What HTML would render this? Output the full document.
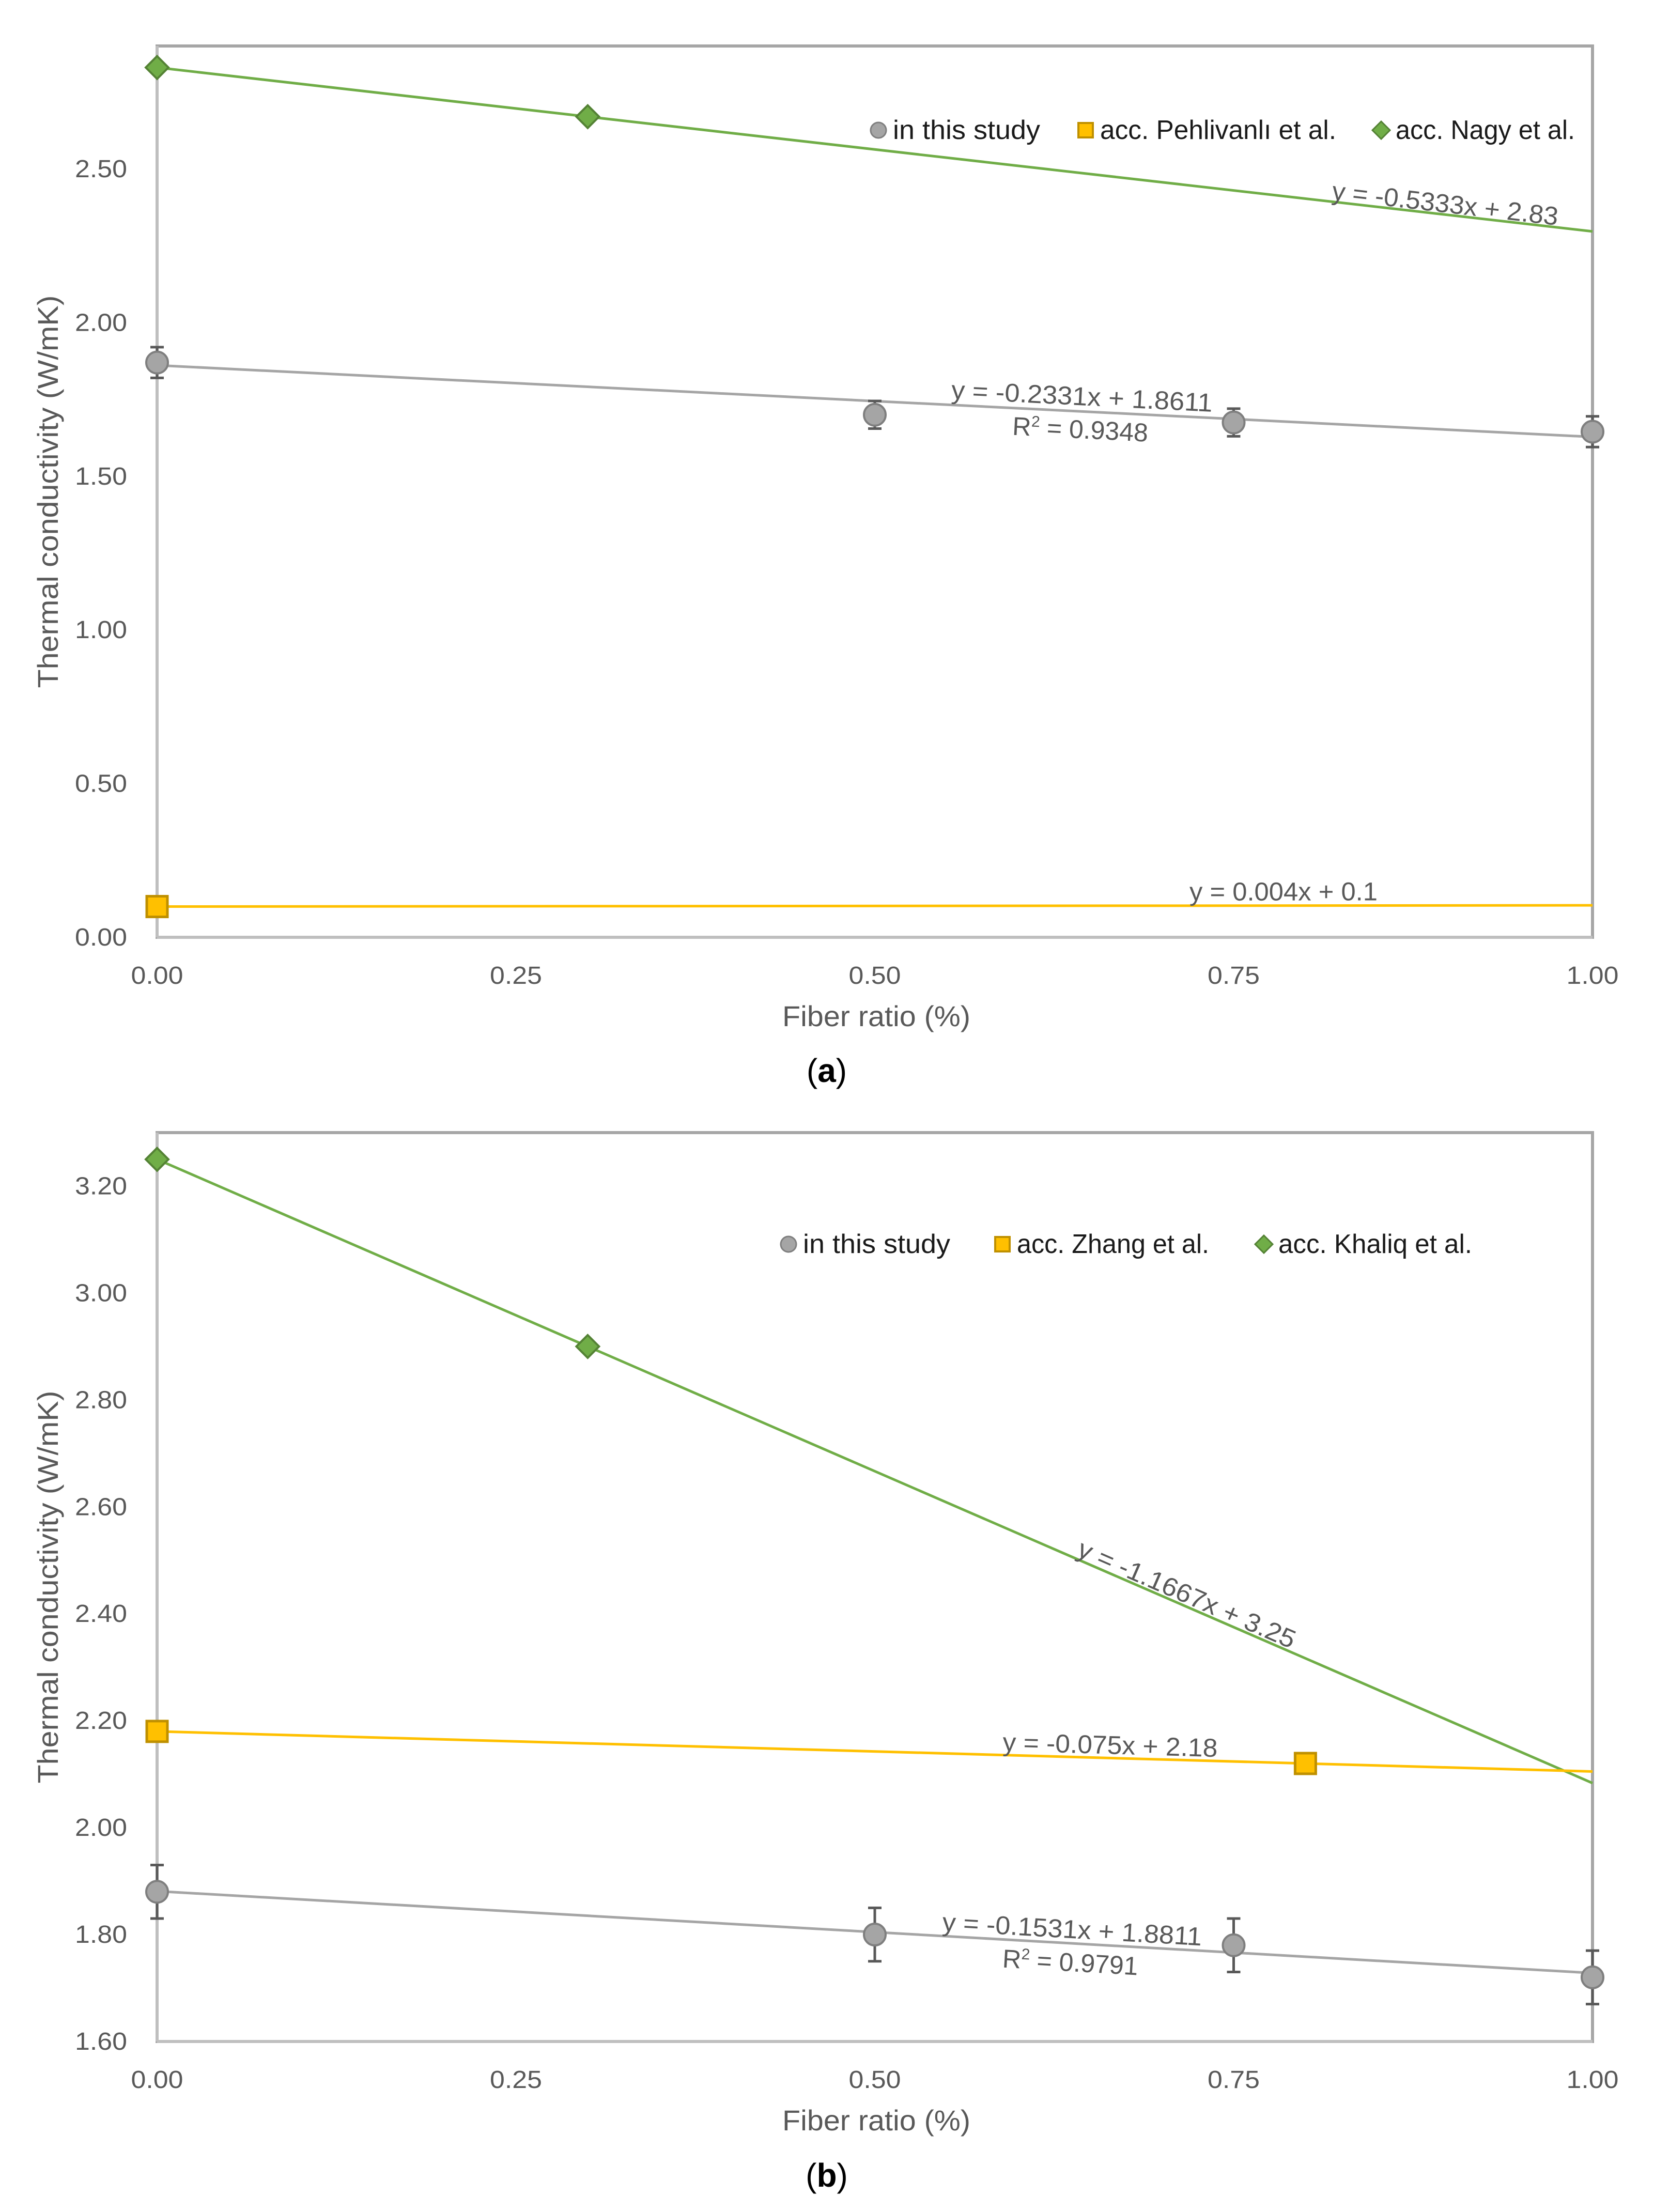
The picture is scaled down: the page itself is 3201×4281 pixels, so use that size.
<!DOCTYPE html>
<html><head><meta charset="utf-8"><style>
html,body{margin:0;padding:0;background:#fff}
svg{display:block}
text{font-family:"Liberation Sans",sans-serif}
</style></head><body>
<svg id="fig" width="3201" height="4281" viewBox="0 0 3201 4281" xmlns="http://www.w3.org/2000/svg"></svg>
<script>
// ---- chart (a) data ----
const aStudyX = [0, 0.5, 0.75, 1.0];
const aStudyY = [1.87, 1.70, 1.675, 1.645];
const aStudyErr = [0.05, 0.045, 0.045, 0.05];
const aPehX = [0];
const aPehY = [0.1];
const aNagyX = [0, 0.3];
const aNagyY = [2.83, 2.67];
const aTrendStudy = [-0.2331, 1.8611];
const aTrendPeh = [0.004, 0.1];
const aTrendNagy = [-0.5333, 2.83];
const aYTicks = [0, 0.5, 1.0, 1.5, 2.0, 2.5];
const aYTickLabels = ["0.00","0.50","1.00","1.50","2.00","2.50"];
const aLegend = ["in this study","acc. Pehlivanlı et al.","acc. Nagy et al."];
// ---- chart (b) data ----
const bStudyX = [0, 0.5, 0.75, 1.0];
const bStudyY = [1.88, 1.80, 1.78, 1.72];
const bStudyErr = [0.05, 0.05, 0.05, 0.05];
const bZhangX = [0, 0.8];
const bZhangY = [2.18, 2.12];
const bKhaliqX = [0, 0.3];
const bKhaliqY = [3.25, 2.90];
const bTrendStudy = [-0.1531, 1.8811];
const bTrendZhang = [-0.075, 2.18];
const bTrendKhaliq = [-1.1667, 3.25];
const bYTicks = [1.6, 1.8, 2.0, 2.2, 2.4, 2.6, 2.8, 3.0, 3.2];
const bYTickLabels = ["1.60","1.80","2.00","2.20","2.40","2.60","2.80","3.00","3.20"];
const bLegend = ["in this study","acc. Zhang et al.","acc. Khaliq et al."];
const xTicks = [0, 0.25, 0.5, 0.75, 1.0];
const xTickLabels = ["0.00","0.25","0.50","0.75","1.00"];

const NS = "http://www.w3.org/2000/svg";
const svg = document.getElementById('fig');
function mk(tag, attrs, parent, txt){
  const e = document.createElementNS(NS, tag);
  for (const k in attrs) e.setAttribute(k, attrs[k]);
  if (txt !== undefined) e.textContent = txt;
  (parent||svg).appendChild(e);
  return e;
}
const COL = {gray:'#a5a5a5', grayS:'#7f7f7f', yel:'#ffc000', yelS:'#bf9000', grn:'#70ad47', grnS:'#548235'};

function marker(g, kind, cx, cy, name){
  let e;
  if (kind==='circle') e = mk('circle',{cx:cx,cy:cy,r:21,fill:COL.gray,stroke:COL.grayS,'stroke-width':4},g);
  else if (kind==='square') e = mk('rect',{x:cx-20,y:cy-20,width:40,height:40,fill:COL.yel,stroke:COL.yelS,'stroke-width':5},g);
  else e = mk('polygon',{points:`${cx},${cy-22} ${cx+22},${cy} ${cx},${cy+22} ${cx-22},${cy}`,fill:COL.grn,stroke:COL.grnS,'stroke-width':4},g);
  
  
  return e;
}

function chart(cfg){
  const g = mk('g',{});
  
  
  const L=304, R=3082, T=cfg.top, B=cfg.bottom;
  const xs = v => L + v*(R-L);
  const ys = v => B - (v-cfg.ymin)/(cfg.ymax-cfg.ymin)*(B-T);
  const fr = mk('rect',{x:L,y:T,width:R-L,height:B-T,fill:'none',stroke:'#a6a6a6','stroke-width':6},g);
  
  
  mk('line',{x1:L,y1:T,x2:L,y2:B,stroke:'#bfbfbf','stroke-width':6},g);
  mk('line',{x1:L,y1:B,x2:R,y2:B,stroke:'#bfbfbf','stroke-width':6},g);
  cfg.yt.forEach((v,i)=>{
    const t = mk('text',{x:L-58,y:ys(v)+16,'text-anchor':'end','font-size':48,fill:'#595959',textLength:101,lengthAdjust:'spacingAndGlyphs'},g,cfg.ytl[i]);
    
    
  });
  xTicks.forEach((v,i)=>{
    const t = mk('text',{x:xs(v),y:B+90,'text-anchor':'middle','font-size':48,fill:'#595959',textLength:101,lengthAdjust:'spacingAndGlyphs'},g,xTickLabels[i]);
    
    
  });
  const xt = mk('text',{x:1696,y:B+172,'text-anchor':'middle','font-size':56,fill:'#595959',textLength:364,lengthAdjust:'spacingAndGlyphs'},g,'Fiber ratio (%)');
  
  
  const yc=(T+B)/2;
  const yt = mk('text',{x:112,y:yc,'text-anchor':'middle','font-size':56,fill:'#595959',transform:`rotate(-90 112 ${yc})`,textLength:760,lengthAdjust:'spacingAndGlyphs'},g,'Thermal conductivity (W/mK)');
  
  
  cfg.trends.forEach(tr=>{
    const [m,b]=tr.coef;
    const l = mk('line',{x1:xs(0),y1:ys(b),x2:xs(1),y2:ys(m+b),stroke:tr.color,'stroke-width':5},g);
    
    
    const ang = Math.atan2(ys(m+b)-ys(b), xs(1)-xs(0))*180/Math.PI;
    const px=tr.lx, py=ys(b+m*((px-L)/(R-L)))-tr.off;
    const lab = mk('text',{x:px,y:py,'text-anchor':'middle','font-size':50,fill:'#595959',transform:`rotate(${ang} ${px} ${py})`,textLength:tr.tl,lengthAdjust:'spacingAndGlyphs'},g,tr.label);
    
    
    if (tr.r2){
      const r = mk('text',{x:px,y:py+64,'text-anchor':'middle','font-size':50,fill:'#595959',transform:`rotate(${ang} ${px} ${py})`},g);
      
      
      r.innerHTML = 'R<tspan font-size="30" dy="-18">2</tspan><tspan dy="18"> = '+tr.r2+'</tspan>';
    }
  });
  cfg.study.x.forEach((x,i)=>{
    const cx=xs(x), y=cfg.study.y[i], e=cfg.study.e[i];
    const eb = mk('path',{d:`M${cx},${ys(y+e)}V${ys(y-e)}M${cx-13},${ys(y+e)}H${cx+13}M${cx-13},${ys(y-e)}H${cx+13}`,stroke:'#595959','stroke-width':5,fill:'none'},g);
    
    
    marker(g,'circle',cx,ys(y),'study-point');
  });
  cfg.sq.x.forEach((x,i)=>marker(g,'square',xs(x),ys(cfg.sq.y[i]),'square-point'));
  cfg.dm.x.forEach((x,i)=>marker(g,'diamond',xs(x),ys(cfg.dm.y[i]),'diamond-point'));
  const lg = mk('g',{},g);
  
  
  const kinds=['circle','square','diamond'];
  cfg.legend.forEach((s,i)=>{
    const lx=cfg.legX[i], ly=cfg.legY;
    const k=kinds[i];
    let m;
    if(k==='circle') m=mk('circle',{cx:lx,cy:ly,r:15,fill:COL.gray,stroke:COL.grayS,'stroke-width':3},lg);
    else if(k==='square') m=mk('rect',{x:lx-14,y:ly-14,width:28,height:28,fill:COL.yel,stroke:COL.yelS,'stroke-width':4},lg);
    else m=mk('polygon',{points:`${lx},${ly-17} ${lx+17},${ly} ${lx},${ly+17} ${lx-17},${ly}`,fill:COL.grn,stroke:COL.grnS,'stroke-width':3},lg);
    
    
    const t=mk('text',{x:lx+28,y:ly+17,'font-size':52,fill:'#1a1a1a',textLength:cfg.legW[i],lengthAdjust:'spacingAndGlyphs'},lg,s);
    
    
  });
  const cap = mk('text',{x:1600,y:cfg.capY,'text-anchor':'middle','font-size':64,fill:'#000','font-family':'Liberation Serif, serif'},g);
  cap.innerHTML='(<tspan font-weight="bold">'+cfg.cap+'</tspan>)';
  
  
}

chart({name:'chart-a', top:89, bottom:1814, ymin:0, ymax:2.9, yt:aYTicks, ytl:aYTickLabels,
  study:{x:aStudyX,y:aStudyY,e:aStudyErr}, sq:{x:aPehX,y:aPehY}, dm:{x:aNagyX,y:aNagyY},
  trends:[
    {name:'nagy',coef:aTrendNagy,color:COL.grn,label:'y = -0.5333x + 2.83',lx:2795,off:4,tl:440},
    {name:'study',coef:aTrendStudy,color:COL.gray,label:'y = -0.2331x + 1.8611',lx:2093,off:12,r2:'0.9348',tl:506},
    {name:'pehlivanli',coef:aTrendPeh,color:COL.yel,label:'y = 0.004x + 0.1',lx:2484,off:10,tl:364}
  ],
  legend:aLegend, legX:[1700,2101,2673], legW:[285,457,347], legY:252, cap:'a', capY:2094});

chart({name:'chart-b', top:2192, bottom:3951, ymin:1.6, ymax:3.3, yt:bYTicks, ytl:bYTickLabels,
  study:{x:bStudyX,y:bStudyY,e:bStudyErr}, sq:{x:bZhangX,y:bZhangY}, dm:{x:bKhaliqX,y:bKhaliqY},
  trends:[
    {name:'khaliq',coef:bTrendKhaliq,color:COL.grn,label:'y = -1.1667x + 3.25',lx:2290,off:6,tl:454},
    {name:'zhang',coef:bTrendZhang,color:COL.yel,label:'y = -0.075x + 2.18',lx:2148,off:8,tl:416},
    {name:'study',coef:bTrendStudy,color:COL.gray,label:'y = -0.1531x + 1.8811',lx:2074,off:10,r2:'0.9791',tl:503}
  ],
  legend:bLegend, legX:[1526,1940,2446], legW:[285,372,375], legY:2408, cap:'b', capY:4232});
</script>
</body></html>
